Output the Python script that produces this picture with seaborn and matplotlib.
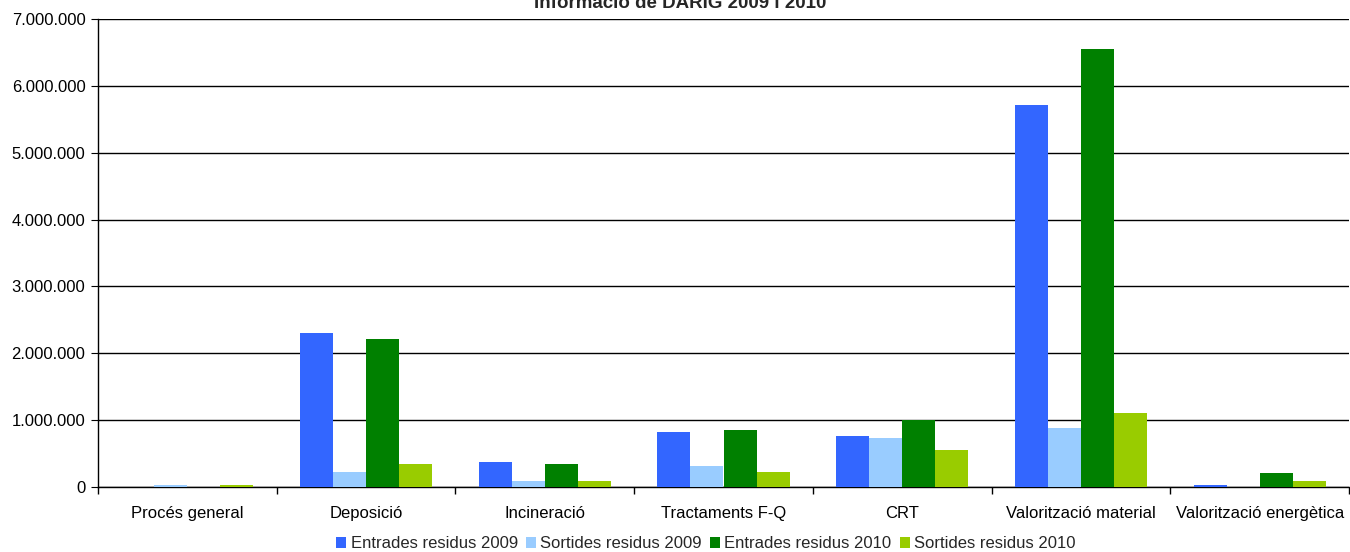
import pandas as pd
import matplotlib
matplotlib.use('Agg')
import matplotlib.pyplot as plt
import seaborn as sns
from matplotlib.ticker import FuncFormatter, FixedLocator

categories = ['Procés general', 'Deposició', 'Incineració', 'Tractaments F-Q',
              'CRT', 'Valorització material', 'Valorització energètica']
series = ['Entrades residus 2009', 'Sortides residus 2009',
          'Entrades residus 2010', 'Sortides residus 2010']

entrades_2009 = [0, 2300000, 370000, 830000, 770000, 5710000, 30000]
sortides_2009 = [25000, 220000, 85000, 320000, 730000, 880000, 0]
entrades_2010 = [0, 2210000, 340000, 860000, 1000000, 6550000, 210000]
sortides_2010 = [25000, 340000, 85000, 220000, 560000, 1110000, 90000]

colors = ['#3366FF', '#99CCFF', '#008000', '#99CC00']


def main():
    sns.set_style('white')
    plt.rcParams['font.family'] = ['Liberation Sans', 'DejaVu Sans']

    rows = []
    for name, vals in zip(series, [entrades_2009, sortides_2009, entrades_2010, sortides_2010]):
        for cat, v in zip(categories, vals):
            rows.append([cat, name, v])
    df = pd.DataFrame(rows, columns=['Categoria', 'Serie', 'Valor'])

    fig = plt.figure(figsize=(13.5, 5.52), dpi=100)
    ax = fig.add_axes([98 / 1350, 1 - 487 / 552, 1251 / 1350, 468 / 552])

    sns.barplot(data=df, x='Categoria', y='Valor', hue='Serie', order=categories,
                hue_order=series, palette=dict(zip(series, colors)), width=0.74,
                saturation=1, gap=0, linewidth=0, edgecolor='none', ax=ax, zorder=3)

    ax.set_ylim(0, 7000000)
    ax.set_xlim(-0.5, len(categories) - 0.5)
    ax.set_yticks(range(0, 7000001, 1000000))
    ax.yaxis.set_major_formatter(FuncFormatter(lambda v, p: f'{int(v):,}'.replace(',', '.')))
    ax.grid(axis='y', color='black', linewidth=1, zorder=0)
    ax.set_axisbelow(True)

    ax.xaxis.set_minor_locator(FixedLocator([i - 0.5 for i in range(len(categories) + 1)]))
    ax.tick_params(axis='x', which='major', length=0, labelsize=12, pad=14, colors='black')
    ax.tick_params(axis='x', which='minor', length=5, direction='out', color='black', width=1)
    ax.tick_params(axis='y', length=5, direction='out', labelsize=12, pad=4,
                   color='black', labelcolor='black')
    ax.xaxis.set_ticks_position('bottom')
    ax.yaxis.set_ticks_position('left')

    for side in ['top', 'right']:
        ax.spines[side].set_visible(False)
    for side in ['left', 'bottom']:
        ax.spines[side].set_color('black')
        ax.spines[side].set_linewidth(1)

    ax.set_xlabel('')
    ax.set_ylabel('')

    handles, labels = ax.get_legend_handles_labels()
    ax.legend_.remove()
    fig.legend(handles, labels, loc='center', bbox_to_anchor=(706 / 1350, 1 - 544 / 552),
               ncol=4, frameon=False, fontsize=12, handlelength=0.6, handleheight=0.6,
               handletextpad=0.25, columnspacing=0.5)

    fig.text(680 / 1350, 1 - 8 / 552, 'Informació de DARIG 2009 i 2010', ha='center',
             va='baseline', fontsize=13.5, fontweight='bold')

    fig.savefig('out.png', dpi=100)


if __name__ == '__main__':
    main()
